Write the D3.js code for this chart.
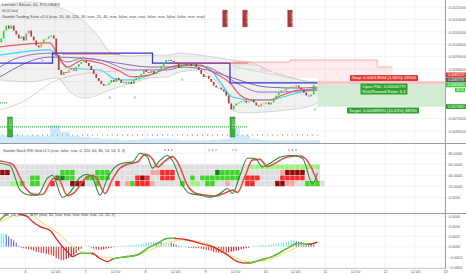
<!DOCTYPE html>
<html>
<head>
<meta charset="utf-8">
<script src="https://cdn.jsdelivr.net/npm/d3@7"></script>
<style>
  body { margin: 0; background: #fff; }
  svg { display: block; font-family: "Liberation Sans", Arial, sans-serif; }
</style>
</head>
<body>
<svg id="chart" width="466" height="275"></svg>
<script>
// Step 1: values (hourly LTC/BTC, Poloniex)

var startTime = Date.UTC(2015, 10, 5, 14); // first candle
var firstOpen = 0.01007;
var closes = [
  0.01023, 0.01055, 0.01075, 0.01063, 0.01075, 0.01055,
  0.01039, 0.01023, 0.01031, 0.01015, 0.01043, 0.01055, 0.01031, 0.01015,
  0.00995, 0.00987, 0.01007, 0.01019, 0.01023, 0.01031, 0.01035, 0.01023,
  0.00956, 0.00896, 0.00876, 0.00888, 0.00884,
  0.00896, 0.00904, 0.00892, 0.00908, 0.0092, 0.00928, 0.00932, 0.00924,
  0.00912, 0.00896, 0.0088, 0.00864, 0.00852, 0.0084, 0.00833, 0.00836,
  0.00844, 0.00856, 0.00848, 0.00864, 0.00856, 0.00844, 0.00848, 0.0084,
  0.00848, 0.0084, 0.00856, 0.00864, 0.00872, 0.0088, 0.00896, 0.00888,
  0.00884, 0.00892, 0.0088, 0.00888, 0.009, 0.00912, 0.00924, 0.00936,
  0.00936, 0.00932, 0.00928, 0.00924, 0.00904, 0.00912, 0.0092, 0.00916,
  0.0092, 0.00912, 0.0092, 0.00908, 0.00896, 0.0088, 0.00868, 0.00872,
  0.0086, 0.00848, 0.00833, 0.00825, 0.00825, 0.00817, 0.00809, 0.00793,
  0.00761, 0.00737,
  0.00753, 0.00761, 0.00765, 0.00769, 0.00773, 0.00765, 0.00769, 0.00777,
  0.00765, 0.00753, 0.00749, 0.00761, 0.00761, 0.00765, 0.00757, 0.00765,
  0.00777, 0.00793, 0.00805, 0.00813, 0.00813, 0.00821, 0.00825, 0.00829,
  0.00829, 0.00833, 0.00825, 0.00817, 0.00805, 0.00793, 0.00789, 0.00797,
  0.00836
];
var grayBars = [10, 11, 28, 29, 30, 50];
var orangeBars = [16, 27, 104, 105];

// overlays as [hour, price]
var bbUpper = [[0,0.01158],[12,0.0117],[23,0.0115],[33,0.01097],[39,0.01037],[44,0.00969],[52,0.00952],[60,0.00956],[67,0.00956],[72,0.00964],[80,0.00956],[93,0.00936],[101,0.00924],[109,0.00888],[116,0.00868],[120,0.00856],[127,0.00848]];
var bbLower = [[0,0.00856],[12,0.00848],[23,0.00864],[28,0.00807],[34,0.00783],[44,0.00815],[53,0.00844],[60,0.00864],[67,0.00868],[72,0.00888],[80,0.00896],[85,0.00864],[92,0.00775],[93,0.00735],[97,0.00723],[107,0.00727],[115,0.00735],[123,0.00747],[127,0.00763]];
var redMA = [[0,0.00989],[20,0.01005],[23,0.00956],[27,0.00908],[33,0.00936],[40,0.00924],[47,0.00896],[53,0.00868],[60,0.00876],[67,0.00904],[72,0.00916],[80,0.00916],[85,0.00888],[92,0.00844],[96,0.00795],[101,0.00775],[108,0.00775],[113,0.00795],[120,0.00815],[127,0.00815]];
var purpleMA = [[0,0.00908],[8,0.00948],[20,0.00964],[27,0.00928],[33,0.00944],[40,0.00936],[53,0.00896],[67,0.00896],[75,0.00916],[83,0.00908],[88,0.00884],[96,0.00836],[104,0.00807],[113,0.00807],[127,0.00823]];
var cyanMA = [[0,0.00956],[20,0.00977],[27,0.00904],[40,0.00896],[47,0.00856],[53,0.00856],[60,0.00876],[67,0.00904],[75,0.00916],[83,0.00908],[88,0.00848],[93,0.00787],[101,0.00775],[107,0.00775],[113,0.00787],[120,0.00807],[127,0.00815]];
var slowMA = [[0,0.00868],[20,0.00948],[33,0.00944],[47,0.00924],[60,0.00908],[73,0.00908],[83,0.00896],[93,0.00864],[107,0.00827],[120,0.00823],[127,0.00827]];
var faintRed = [[0,0.00735],[8,0.00763],[23,0.00856],[40,0.00888],[60,0.00896]];
var blueStep = [[0,0.00924],[21,0.00964],[61,0.00924],[92,0.00844],[127,0.00844]];
var redDotted = [[[25,0.0096],[48,0.0096]], [[69,0.00924],[99,0.00924]]];
var greenDotted = [[[0,0.006663],[99,0.006663]], [[0,0.00763],[3,0.00763]]];
// cloud: [hour, top, bottom]
var cloud = [[93,0.00928,0.00912],[104,0.00928,0.00888],[110,0.00928,0.00876],[116,0.00936,0.00864],[127,0.00936,0.0084],[140,0.00936,0.00807],[149,0.00936,0.00815],[150.9,0.00908,0.00817],[157,0.00908,0.00823]];
var volume4h = [300,320,280,300,260,700,420,280,240,200,160,140,120,130,150,140,160,130,110,100,110,130,150,600,300,150,120,110,100,110,100,120];
var markB = [[17,0.00944],[44,0.00795],[54,0.00795],[73,0.00868],[126,0.00747]];
var sellSignalHours = [89, 97, 115];
var buySignalHours = [3, 92];
var dotRow = "ggrgrgggrrgrggrgrrrggrgrgrrrrgrrrgrgrrrrrrrrrrgggrgrrgggrgggrrgg";

var priceTicks = [0.0065, 0.007, 0.0075, 0.008, 0.0085, 0.009, 0.0095, 0.01, 0.0105, 0.011, 0.0115];

// position tool
var posStartHour = 127;
var entryPrice = 0.0083739, stopPrice = 0.00851294, targetPrice = 0.007484;
var stopText = "Stop: 0.00013904 (1.66%) 13904";
var pnlText = ["Open P&L: 0.00004779", "Risk/Reward Ratio: 6.4"];
var targetText = "Target: 0.00088990 (10.63%) 88990";
var countdown = "38:35";

// stoch rsi pane
var stochTicks = [0, 20, 40, 60, 80];
var stochK = [[0,62],[4,58],[8,13],[12,4],[15,4],[19,35],[21,40],[25,0],[28,9],[32,36],[35,42],[37,36],[40,4],[43,35],[46,55],[49,62],[53,64],[56,80],[59,73],[61,53],[64,67],[67,76],[69,67],[73,22],[76,7],[80,4],[84,0],[88,7],[91,16],[93,7],[96,40],[99,71],[102,71],[105,55],[108,62],[112,73],[116,76],[117,76],[121,71],[125,25],[127,44]];
var stochD = [[0,66],[5,60],[10,18],[13,6],[17,5],[21,33],[23,36],[27,3],[30,10],[34,34],[37,40],[39,32],[42,7],[45,33],[48,53],[51,60],[55,64],[58,78],[61,70],[63,55],[66,66],[69,74],[71,64],[75,22],[78,8],[82,4],[86,2],[90,8],[93,13],[95,9],[98,38],[101,68],[104,69],[107,56],[110,62],[114,72],[118,75],[120,75],[123,66],[127,28]];
// grid rows 60-50, 50-40, 40-30, 30-20; one char per 2 hours
var gridRows = [
  "..................................................llllllllllllll",
  "mm..........ggg....ggg........pprrr........dgggg........pmmmm...",
  "......gg...ddgg..ggggg.....rmr..rrr...g.gggggggg.rrr....rrrrr...",
  "..llg.gg..r...mmm..g...r.pgrrrp.....g.ll.gg..p...rr....mmpp..ggg."
];
var gridColors = { ".": "#dedede", "l": "#9ef27e", "g": "#3fd52b", "d": "#0d8a12", "r": "#ff2a2a", "p": "#ffa3a3", "m": "#930b0b" };
var stochDots = [[66,"r"],[67.4,"r"],[68.8,"r"],[83.6,"g"],[85,"g"],[86.4,"g"],[93.2,"g"],[94.4,"g"],[115.6,"r"],[117,"r"],[118.4,"r"]];

// macd pane
var macdTicks = [-0.0004, -0.0002, 0, 0.0002, 0.0004, 0.0006];
var macdHist = [
  0.00026, 0.00026, 0.00024, 0.0002, 0.00016, 0.00012, 0.00008, 0.00002,
  -0.00002, -0.00003, -0.00004, -0.00005, -0.00006, -0.00008, -0.0001, -0.0001,
  -0.00012, -0.00012, -0.00014, -0.00015, -0.00016, -0.00018, -0.00022, -0.00024,
  -0.00026, -0.00026, -0.00024, -0.00022, -0.0002, -0.00016, -0.00012, -0.00008,
  -0.00004, 0.00001, 0.00002, 0.00001, -0.00002, -0.00004, -0.00005, -0.00006,
  -0.00006, -0.00005, -0.00004, -0.00003, -0.00002, -0.00001, 0.00001, 0.00001,
  0.00002, 0.00002, 0.00002, 0.00003, 0.00003, 0.00003, 0.00004, 0.00004,
  0.00005, 0.00006, 0.00007, 0.00008, 0.00009, 0.00009, 0.00008, 0.00009,
  0.00008, 0.00008, 0.00009, 0.00009, 0.00008, 0.00006, 0.00004, 0.00002,
  0.00001, 0.00001, -0.00001, -0.00002, -0.00002, -0.00003, -0.00003, -0.00003,
  -0.00004, -0.00005, -0.00006, -0.00007, -0.00008, -0.0001, -0.00011, -0.00012,
  -0.00012, -0.00012, -0.00012, -0.00011, -0.0001, -0.00009, -0.00008, -0.00007,
  -0.00005, -0.00004, -0.00003, -0.00002, 0.00001, 0.00002, 0.00002, 0.00002,
  0.00003, 0.00003, 0.00003, 0.00004, 0.00004, 0.00005, 0.00006, 0.00007,
  0.00008, 0.00009, 0.0001, 0.00011, 0.00012, 0.00012, 0.00011, 0.0001,
  0.00009, 0.00008, 0.00007, 0.00006, 0.00005, 0.00004
];
var macdLine = [[0,0.00052],[5,0.00068],[7,0.00065],[11,0.00058],[13,0.00049],[16,0.00039],[20,0.00032],[22,0.00019],[25,0],[27,-0.0001],[29,-0.00019],[32,-0.00013],[37,-0.00013],[40,-0.00023],[43,-0.00029],[45,-0.00024],[51,-0.00019],[55,-0.00016],[59,-0.00003],[63,0.000066],[67,0.00016],[70,0.00016],[75,0.00013],[80,0.000066],[85,0],[91,-0.00016],[95,-0.00029],[99,-0.00032],[104,-0.00026],[109,-0.00019],[115,-0.00003],[119,0.000066],[124,0.00005],[127,0.00009]];
var signalLine = [[0,0.00048],[3,0.00055],[11,0.00065],[17,0.00046],[23,0.00027],[27,0.0001],[31,-0.00006],[35,-0.00012],[40,-0.00019],[45,-0.00022],[53,-0.00019],[60,-0.00006],[67,0.00007],[72,0.00013],[80,0.0001],[87,-0.00003],[93,-0.00019],[99,-0.00029],[107,-0.00026],[115,-0.0001],[121,0.00003],[127,0.00008]];
var macdGreenRanges = [[0,6],[32,37],[45,70],[99,124]];

// Step 2: layout and scales

var axisX = 445;
var mainBottom = 143, stochBottom = 213, macdBottom = 268;
var svg = d3.select("#chart");

function T(h) { return new Date(startTime + h * 3600e3); }
var x = d3.scaleUtc().domain([T(0), T(178)]).range([0, axisX]);
function xh(h) { return x(T(h)); }

var yPrice = d3.scaleLinear().domain([0.006016, 0.011782]).range([mainBottom, 0]);
var yStoch = d3.scaleLinear().domain([0, 100]).range([197.3, 142.3]);
var yMacd = d3.scaleLinear().domain([-0.0004, 0.0006]).range([267.3, 215.8]);
var yVol = d3.scaleLinear().domain([0, 1000]).range([mainBottom, 117]);

var defs = svg.append("defs");
function clip(id, y0, y1) {
  defs.append("clipPath").attr("id", id).append("rect")
    .attr("x", 0).attr("y", y0).attr("width", axisX).attr("height", y1 - y0);
}
clip("clipMain", 0, mainBottom);
clip("clipStoch", mainBottom, stochBottom);
clip("clipMacd", stochBottom, macdBottom);

// Step 3: grid

var timeTicks = x.ticks(d3.utcHour.every(12));
var grid = svg.append("g").attr("stroke", "#eef1f3").attr("stroke-width", 0.8);
grid.selectAll("line.v").data(timeTicks).join("line")
  .attr("x1", d => x(d)).attr("x2", d => x(d)).attr("y1", 0).attr("y2", macdBottom);
grid.selectAll("line.p").data(priceTicks).join("line")
  .attr("x1", 0).attr("x2", axisX).attr("y1", d => yPrice(d)).attr("y2", d => yPrice(d));
grid.selectAll("line.s").data(stochTicks).join("line")
  .attr("x1", 0).attr("x2", axisX).attr("y1", d => yStoch(d)).attr("y2", d => yStoch(d));
grid.selectAll("line.m").data(macdTicks).join("line")
  .attr("x1", 0).attr("x2", axisX).attr("y1", d => yMacd(d)).attr("y2", d => yMacd(d));

// Step 4: main pane

var main = svg.append("g").attr("clip-path", "url(#clipMain)");
var priceLine = d3.line().x(d => xh(d[0])).y(d => yPrice(d[1])).curve(d3.curveMonotoneX);

// volume
var volPts = volume4h.map((v, b) => [b * 4, v]).concat([[128, volume4h[volume4h.length - 1]]]);
main.append("path").datum(volPts)
  .attr("d", d3.area().x(d => xh(d[0])).y0(mainBottom).y1(d => yVol(d[1])).curve(d3.curveStepAfter))
  .attr("fill", "#c4e4f7").attr("opacity", 0.8);

// bollinger band
main.append("path").datum(bbUpper.concat(bbLower.slice().reverse()))
  .attr("d", d3.line().x(d => xh(d[0])).y(d => yPrice(d[1])).curve(d3.curveLinearClosed))
  .attr("fill", "rgba(0,0,0,0.055)");
[bbUpper, bbLower].forEach(function(band) {
  main.append("path").datum(band).attr("d", priceLine)
    .attr("fill", "none").attr("stroke", "#bdbdbd").attr("stroke-width", 0.6);
});

// red cloud
main.append("path").datum(cloud)
  .attr("d", d3.area().x(d => xh(d[0])).y0(d => yPrice(d[2])).y1(d => yPrice(d[1])).curve(d3.curveStepAfter))
  .attr("fill", "rgba(255,80,80,0.1)");
main.append("path").datum(cloud.map(d => [d[0], d[1]]))
  .attr("d", d3.line().x(d => xh(d[0])).y(d => yPrice(d[1])).curve(d3.curveStepAfter))
  .attr("fill", "none").attr("stroke", "#f39a9a").attr("stroke-width", 0.8);
main.append("path").datum(cloud.map(d => [d[0], d[2]]))
  .attr("d", priceLine).attr("fill", "none").attr("stroke", "#b9d9b2").attr("stroke-width", 0.7);

main.append("path").datum(faintRed).attr("d", priceLine)
  .attr("fill", "none").attr("stroke", "#f2a6a6").attr("stroke-width", 0.6);

// moving averages
[[slowMA, "#6b4aa0", 0.8], [purpleMA, "#a06ccc", 1], [cyanMA, "#3fd6e8", 1.2], [redMA, "#e95a5c", 1.2]].forEach(function(s) {
  main.append("path").datum(s[0]).attr("d", priceLine)
    .attr("fill", "none").attr("stroke", s[1]).attr("stroke-width", s[2]);
});

main.append("path").datum(blueStep)
  .attr("d", d3.line().x(d => xh(d[0])).y(d => yPrice(d[1])).curve(d3.curveStepAfter))
  .attr("fill", "none").attr("stroke", "#3434d2").attr("stroke-width", 1.3);

redDotted.forEach(function(seg) {
  main.append("path").datum(seg).attr("d", d3.line().x(d => xh(d[0])).y(d => yPrice(d[1])))
    .attr("stroke", "#e03a3a").attr("stroke-width", 1.2).attr("stroke-dasharray", "1.1,0.9");
});
greenDotted.forEach(function(seg) {
  main.append("path").datum(seg).attr("d", d3.line().x(d => xh(d[0])).y(d => yPrice(d[1])))
    .attr("stroke", "#2fc42f").attr("stroke-width", 1.2).attr("stroke-dasharray", "1.1,0.9");
});

main.selectAll("circle.row").data(dotRow.split("")).join("circle")
  .attr("cx", (d, i) => xh(i * 2 + 1)).attr("cy", 135).attr("r", 0.55)
  .attr("fill", d => d === "g" ? "#32c832" : "#e03030");

// candles
var candles = closes.map(function(c, i) {
  var o = i === 0 ? firstOpen : closes[i - 1];
  var tone = grayBars.indexOf(i) >= 0 ? "#9a9a9a"
    : orangeBars.indexOf(i) >= 0 ? "#eea23a"
    : (c >= o ? "#3dcf3d" : "#b23b3b");
  return { i: i, o: o, c: c, tone: tone };
});
main.selectAll("rect.candle").data(candles).join("rect")
  .attr("x", d => xh(d.i) + 0.4).attr("width", 1.7)
  .attr("y", d => yPrice(Math.max(d.o, d.c)))
  .attr("height", d => Math.max(0.8, Math.abs(yPrice(d.o) - yPrice(d.c))))
  .attr("fill", d => d.tone);

main.selectAll("text.mark").data(markB).join("text")
  .attr("x", d => xh(d[0])).attr("y", d => yPrice(d[1]) + 4)
  .attr("font-size", 3.5).attr("fill", "#e48ad0").attr("text-anchor", "middle").text("B");

// signal boxes
sellSignalHours.forEach(function(h) {
  main.append("rect").attr("x", xh(h)).attr("y", 10).attr("width", 5).attr("height", 17)
    .attr("fill", "#a83a3a").attr("stroke", "#d88").attr("stroke-width", 0.4);
  main.append("text").attr("transform", "translate(" + (xh(h) + 3.3) + ",12) rotate(90)")
    .attr("font-size", 2.6).attr("fill", "#f3d0d0").text("SHORT 8");
});
buySignalHours.forEach(function(h) {
  main.append("rect").attr("x", xh(h)).attr("y", 117).attr("width", 5).attr("height", 20)
    .attr("fill", "#38b538").attr("stroke", "#1d7a1d").attr("stroke-width", 0.4);
  main.append("text").attr("transform", "translate(" + (xh(h) + 1.7) + ",119) rotate(90)")
    .attr("font-size", 2.6).attr("fill", "#dff5df").text("LONG 9");
});

// position tool
var px0 = xh(posStartHour);
main.append("rect").attr("x", px0).attr("width", axisX - px0)
  .attr("y", yPrice(stopPrice)).attr("height", yPrice(entryPrice) - yPrice(stopPrice))
  .attr("fill", "#f8c6c9");
main.append("rect").attr("x", px0).attr("width", axisX - px0)
  .attr("y", yPrice(entryPrice)).attr("height", yPrice(targetPrice) - yPrice(entryPrice))
  .attr("fill", "#d3ead3");

function tag(g, cx, top, lines, bg, w) {
  var h = lines.length * 5 + 1;
  g.append("rect").attr("x", cx - w / 2).attr("y", top).attr("width", w).attr("height", h)
    .attr("rx", 0.6).attr("fill", bg);
  lines.forEach(function(t, k) {
    g.append("text").attr("x", cx).attr("y", top + 4.3 + k * 5)
      .attr("text-anchor", "middle").attr("font-size", 4).attr("fill", "#fff")
      .attr("textLength", w - 4).attr("lengthAdjust", "spacingAndGlyphs").text(t);
  });
}
tag(main, 384, yPrice(stopPrice) - 6, [stopText], "#e53935", 68);
tag(main, 384, yPrice(entryPrice) - 1, pnlText, "#2ea12e", 47);
tag(main, 383, yPrice(targetPrice) + 1, [targetText], "#2ea12e", 72);

// Step 5: stoch rsi pane

var stoch = svg.append("g").attr("clip-path", "url(#clipStoch)");
gridRows.forEach(function(row, r) {
  stoch.selectAll("rect.r" + r).data(row.split("")).join("rect")
    .attr("x", (d, c) => xh(c * 2)).attr("width", xh(2) - xh(0))
    .attr("y", yStoch(60 - 10 * r)).attr("height", yStoch(50 - 10 * r) - yStoch(60 - 10 * r))
    .attr("fill", d => gridColors[d]).attr("stroke", "#f4f4f4").attr("stroke-width", 0.3);
});
var stochLine = d3.line().x(d => xh(d[0])).y(d => yStoch(d[1])).curve(d3.curveMonotoneX);
stoch.append("path").datum(stochD).attr("d", stochLine)
  .attr("fill", "none").attr("stroke", "#e5504c").attr("stroke-width", 1.6);
stoch.append("path").datum(stochK).attr("d", stochLine)
  .attr("fill", "none").attr("stroke", "#2f8a3a").attr("stroke-width", 1.1);
stoch.selectAll("circle.sig").data(stochDots).join("circle")
  .attr("cx", d => xh(d[0])).attr("cy", 150).attr("r", 0.7)
  .attr("fill", d => d[1] === "g" ? "#2fbf2f" : "#e03030");

// Step 6: macd pane

var macd = svg.append("g").attr("clip-path", "url(#clipMacd)");
macd.selectAll("rect.hist").data(macdHist).join("rect")
  .attr("x", (d, i) => xh(i) + 0.7).attr("width", 1)
  .attr("y", d => Math.min(yMacd(0), yMacd(d)))
  .attr("height", d => Math.abs(yMacd(d) - yMacd(0)))
  .attr("fill", function(d, i) {
    var prev = i > 0 ? macdHist[i - 1] : d;
    if (d >= 0) return d >= prev ? "#74e0f0" : "#5454d8";
    return d <= prev ? "#db2424" : "#8e1616";
  });
var macdPath = d3.line().x(d => xh(d[0])).y(d => yMacd(d[1])).curve(d3.curveMonotoneX);
macd.append("path").datum(signalLine).attr("d", macdPath)
  .attr("fill", "none").attr("stroke", "#f3e27c").attr("stroke-width", 1.1);
macd.append("path").datum(macdLine).attr("d", macdPath)
  .attr("fill", "none").attr("stroke", "#e22222").attr("stroke-width", 1.3);
var greenClip = defs.append("clipPath").attr("id", "clipGreen");
macdGreenRanges.forEach(function(r) {
  greenClip.append("rect").attr("x", xh(r[0])).attr("width", xh(r[1]) - xh(r[0]))
    .attr("y", stochBottom).attr("height", macdBottom - stochBottom);
});
macd.append("path").datum(macdLine).attr("d", macdPath).attr("clip-path", "url(#clipGreen)")
  .attr("fill", "none").attr("stroke", "#3fdc3f").attr("stroke-width", 1.3);
var macdInterp = function(h) {
  var k = d3.bisector(d => d[0]).left(macdLine, h);
  var a = macdLine[Math.max(0, k - 1)], b = macdLine[Math.min(macdLine.length - 1, k)];
  return b[0] === a[0] ? a[1] : a[1] + (b[1] - a[1]) * (h - a[0]) / (b[0] - a[0]);
};
macdGreenRanges.forEach(function(r) {
  if (r[0] > 0) macd.append("circle").attr("cx", xh(r[0])).attr("cy", yMacd(macdInterp(r[0]))).attr("r", 0.9).attr("fill", "#2fcf2f");
  macd.append("circle").attr("cx", xh(r[1])).attr("cy", yMacd(macdInterp(r[1]))).attr("r", 0.9).attr("fill", "#e02020");
});

// Step 7: axes, separators, legends

svg.append("rect").attr("x", axisX).attr("y", 0).attr("width", 466 - axisX).attr("height", 275).attr("fill", "#fff");

// price tags on the axis, stacked upward when they collide
var lastClose = closes[closes.length - 1];
var tags = [
  { price: stopPrice, bg: "#e53935" },
  { price: entryPrice, bg: "#5a5a5a" },
  { price: lastClose, bg: "#3fcf3f" }
];
tags.forEach(t => t.y = yPrice(t.price));
for (var k = tags.length - 2; k >= 0; k--) tags[k].y = Math.min(tags[k].y, tags[k + 1].y - 5);
tags.push({ price: targetPrice, bg: "#2a9f2a", y: yPrice(targetPrice) });
var countdownY = tags[2].y + 5.2;

// plain tick labels are hidden where a tag covers them
function freeOfTags(v) {
  var y = yPrice(v);
  return tags.every(t => Math.abs(t.y - y) > 5) && Math.abs(countdownY - y) > 4.5;
}

function styleAxis(g) {
  g.select(".domain").remove();
  g.selectAll("line").attr("stroke", "#888").attr("stroke-width", 0.5);
  g.selectAll("text").attr("font-size", 3.8).attr("fill", "#666");
}
svg.append("g").attr("transform", "translate(" + axisX + ",0)")
  .call(d3.axisRight(yPrice).tickValues(priceTicks.filter(freeOfTags)).tickFormat(d3.format(".7f")).tickSize(1.5).tickPadding(2))
  .call(styleAxis);
svg.append("g").attr("transform", "translate(" + axisX + ",0)")
  .call(d3.axisRight(yStoch).tickValues(stochTicks).tickFormat(d3.format(".4f")).tickSize(1.5).tickPadding(2))
  .call(styleAxis);
svg.append("g").attr("transform", "translate(" + axisX + ",0)")
  .call(d3.axisRight(yMacd).tickValues(macdTicks).tickFormat(d3.format(".4f")).tickSize(1.5).tickPadding(2))
  .call(styleAxis);
svg.append("g").attr("transform", "translate(0," + macdBottom + ")")
  .call(d3.axisBottom(x).tickValues(timeTicks)
    .tickFormat(d => d.getUTCHours() === 0 ? String(d.getUTCDate()) : "12:00")
    .tickSize(1.5).tickPadding(1))
  .call(styleAxis);

var tagG = svg.append("g");
tags.forEach(function(t) {
  tagG.append("rect").attr("x", axisX + 1).attr("y", t.y - 2.4).attr("width", 20).attr("height", 4.8).attr("fill", t.bg);
  tagG.append("text").attr("x", axisX + 3).attr("y", t.y + 1.3).attr("font-size", 3.6).attr("fill", "#fff")
    .attr("textLength", 16.5).attr("lengthAdjust", "spacingAndGlyphs").text(d3.format(".7f")(t.price));
});
tagG.append("rect").attr("x", axisX + 10).attr("y", countdownY - 2.1).attr("width", 10).attr("height", 4.2).attr("fill", "#3fcf3f");
tagG.append("text").attr("x", axisX + 11).attr("y", countdownY + 1.2).attr("font-size", 3.3).attr("fill", "#fff")
  .attr("textLength", 8).attr("lengthAdjust", "spacingAndGlyphs").text(countdown);

svg.append("line").attr("x1", axisX + 0.5).attr("x2", axisX + 0.5).attr("y1", 0).attr("y2", macdBottom)
  .attr("stroke", "#8c8c8c").attr("stroke-width", 0.8);
[mainBottom, stochBottom].forEach(function(y) {
  svg.append("line").attr("x1", 0).attr("x2", 466).attr("y1", y + 0.5).attr("y2", y + 0.5)
    .attr("stroke", "#9a9a9a").attr("stroke-width", 1);
});
svg.append("line").attr("x1", 0).attr("x2", axisX).attr("y1", macdBottom + 0.5).attr("y2", macdBottom + 0.5)
  .attr("stroke", "#c4c4c4").attr("stroke-width", 0.8);

var legends = [
  [2, 5.5, "Litecoin / Bitcoin, 60, POLONIEX", 58],
  [2, 11.5, "Vol (20, false)", 16],
  [2, 17.5, "Gambit Trading Suite v2.0 (true, 20, 60, 120, 30, true, 20, 40, true, false, true, true, false, true, false, false, true, true)", 203],
  [3, 151.5, "Gambit Stoch RSI Grid v1.5 (true, false, true, 0, 120, 60, 80, 14, 14, 3, 3)", 122],
  [3, 215.5, "CM_Ult_MacD_MTF (true, 60, true, true, true, true, true, 12, 26, 9)", 112]
];
svg.selectAll("text.legend").data(legends).join("text")
  .attr("x", d => d[0]).attr("y", d => d[1]).attr("font-size", 4).attr("fill", "#444")
  .attr("textLength", d => d[3]).attr("lengthAdjust", "spacingAndGlyphs").text(d => d[2]);
</script>
</body>
</html>
